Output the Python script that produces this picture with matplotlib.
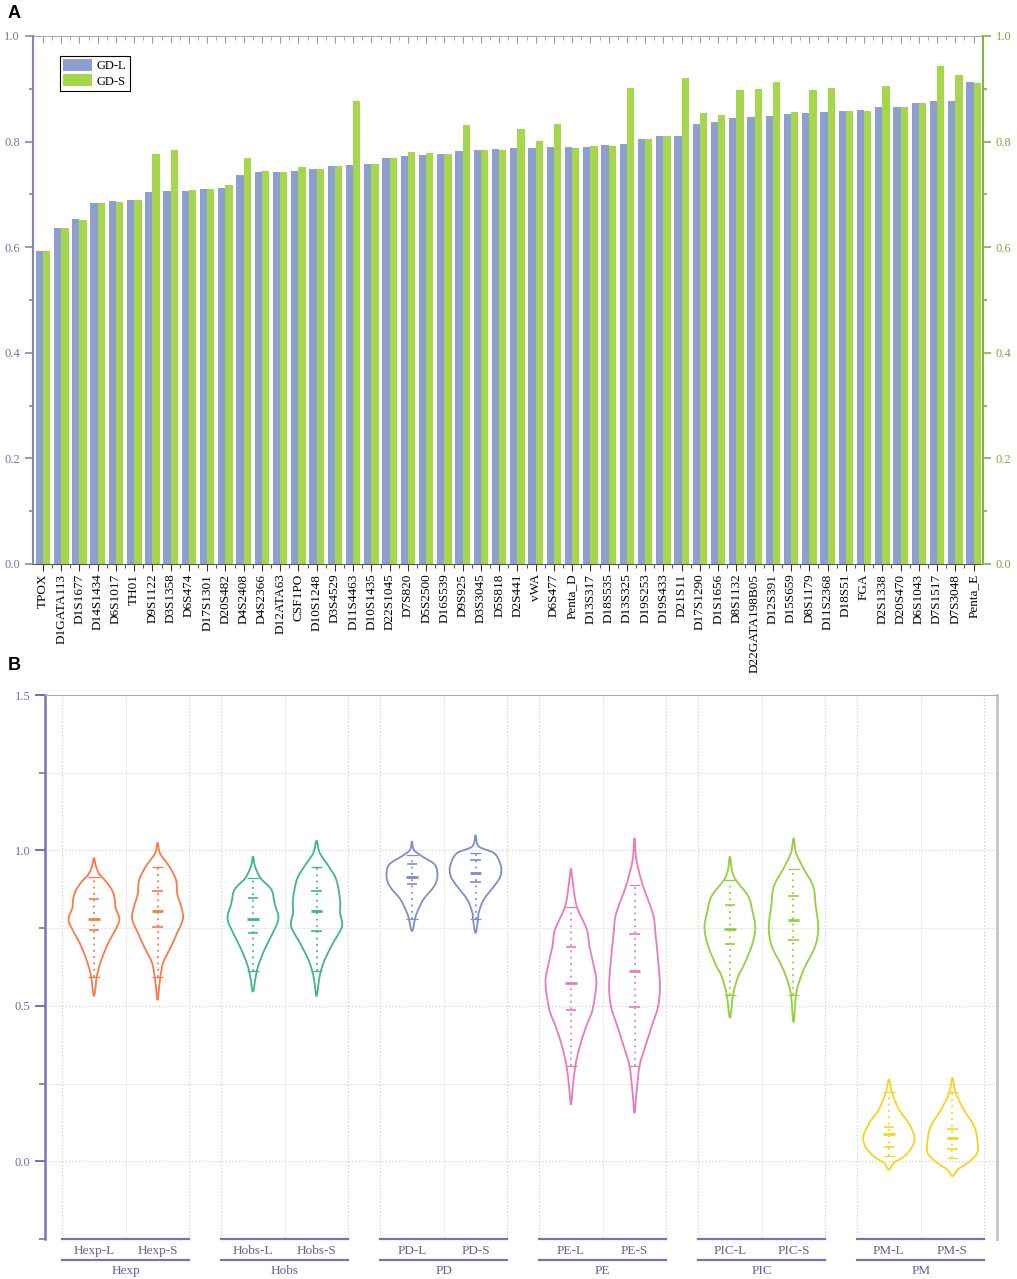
import numpy as np
import matplotlib
matplotlib.use('Agg')
import matplotlib.pyplot as plt
from matplotlib.path import Path
from matplotlib.patches import PathPatch
from matplotlib.ticker import MultipleLocator, FixedLocator

plt.rcParams['font.family'] = ['Liberation Serif', 'DejaVu Serif']

# ---- panel A data ----
loci = ['TPOX', 'D1GATA113', 'D1S1677', 'D14S1434', 'D6S1017', 'TH01', 'D9S1122', 'D3S1358',
        'D6S474', 'D17S1301', 'D20S482', 'D4S2408', 'D4S2366', 'D12ATA63', 'CSF1PO', 'D10S1248',
        'D3S4529', 'D11S4463', 'D10S1435', 'D22S1045', 'D7S820', 'D5S2500', 'D16S539', 'D9S925',
        'D3S3045', 'D5S818', 'D2S441', 'vWA', 'D6S477', 'Penta_D', 'D13S317', 'D18S535',
        'D13S325', 'D19S253', 'D19S433', 'D21S11', 'D17S1290', 'D1S1656', 'D8S1132',
        'D22GATA198B05', 'D12S391', 'D15S659', 'D8S1179', 'D11S2368', 'D18S51', 'FGA',
        'D2S1338', 'D20S470', 'D6S1043', 'D7S1517', 'D7S3048', 'Penta_E']
gd_l = [0.592, 0.637, 0.653, 0.684, 0.687, 0.689, 0.705, 0.706, 0.706, 0.710, 0.712, 0.737,
        0.742, 0.743, 0.745, 0.749, 0.754, 0.755, 0.758, 0.768, 0.773, 0.775, 0.777, 0.782,
        0.784, 0.786, 0.787, 0.787, 0.789, 0.789, 0.790, 0.793, 0.795, 0.804, 0.811, 0.811,
        0.834, 0.838, 0.844, 0.847, 0.849, 0.853, 0.855, 0.856, 0.858, 0.859, 0.866, 0.866,
        0.874, 0.876, 0.877, 0.912]
gd_s = [0.592, 0.636, 0.652, 0.684, 0.686, 0.689, 0.777, 0.785, 0.708, 0.711, 0.717, 0.768,
        0.744, 0.743, 0.751, 0.749, 0.754, 0.876, 0.758, 0.769, 0.780, 0.778, 0.777, 0.831,
        0.784, 0.785, 0.823, 0.801, 0.834, 0.788, 0.792, 0.792, 0.902, 0.804, 0.811, 0.920,
        0.855, 0.851, 0.898, 0.899, 0.913, 0.857, 0.898, 0.901, 0.858, 0.858, 0.905, 0.866,
        0.874, 0.944, 0.927, 0.911]

# ---- panel B data ----
groups = ['Hexp', 'Hobs', 'PD', 'PE', 'PIC', 'PM']
group_colors = ['#fa7a48', '#40b68b', '#7b8fc9', '#e67bbf', '#93d13b', '#fdd319']
# violin outlines: (value, half width)
profiles = {
    'Hexp-L': [(0.531, 0), (0.56, 0.025), (0.60, 0.05), (0.65, 0.12), (0.70, 0.22), (0.75, 0.35),
               (0.78, 0.40), (0.815, 0.34), (0.84, 0.33), (0.87, 0.29), (0.90, 0.19), (0.925, 0.08),
               (0.95, 0.03), (0.976, 0)],
    'Hexp-S': [(0.518, 0), (0.56, 0.025), (0.60, 0.05), (0.64, 0.09), (0.69, 0.21), (0.735, 0.31),
               (0.78, 0.40), (0.82, 0.37), (0.86, 0.31), (0.905, 0.29), (0.95, 0.18), (0.99, 0.04),
               (1.024, 0)],
    'Hobs-L': [(0.545, 0), (0.59, 0.04), (0.627, 0.08), (0.68, 0.18), (0.734, 0.31), (0.781, 0.40),
               (0.83, 0.34), (0.874, 0.29), (0.911, 0.12), (0.95, 0.03), (0.981, 0)],
    'Hobs-S': [(0.531, 0), (0.57, 0.03), (0.606, 0.06), (0.649, 0.13), (0.702, 0.26), (0.756, 0.40),
               (0.80, 0.37), (0.842, 0.37), (0.906, 0.31), (0.949, 0.19), (0.992, 0.05), (1.031, 0)],
    'PD-L': [(0.74, 0), (0.781, 0.05), (0.80, 0.08), (0.842, 0.18), (0.885, 0.35), (0.917, 0.40),
             (0.954, 0.36), (0.981, 0.16), (1.002, 0.03), (1.029, 0)],
    'PD-S': [(0.734, 0), (0.78, 0.04), (0.80, 0.05), (0.842, 0.13), (0.89, 0.31), (0.917, 0.39),
             (0.949, 0.40), (0.99, 0.30), (1.013, 0.05), (1.048, 0)],
    'PE-L': [(0.182, 0), (0.241, 0.03), (0.308, 0.07), (0.37, 0.14), (0.434, 0.24), (0.488, 0.34),
             (0.574, 0.40), (0.628, 0.36), (0.692, 0.29), (0.746, 0.25), (0.821, 0.09), (0.896, 0.03),
             (0.941, 0)],
    'PE-S': [(0.155, 0), (0.22, 0.03), (0.308, 0.08), (0.37, 0.17), (0.434, 0.27), (0.498, 0.37),
             (0.563, 0.40), (0.649, 0.37), (0.731, 0.33), (0.796, 0.29), (0.888, 0.13), (0.969, 0.03),
             (1.04, 0)],
    'PIC-L': [(0.461, 0), (0.536, 0.05), (0.595, 0.13), (0.627, 0.21), (0.691, 0.34), (0.75, 0.40),
              (0.799, 0.36), (0.852, 0.29), (0.906, 0.09), (0.938, 0.03), (0.981, 0)],
    'PIC-S': [(0.447, 0), (0.536, 0.04), (0.584, 0.10), (0.63, 0.19), (0.691, 0.34), (0.75, 0.39),
              (0.82, 0.35), (0.884, 0.31), (0.941, 0.16), (0.992, 0.04), (1.038, 0)],
    'PM-L': [(-0.027, 0), (-0.005, 0.08), (0.016, 0.24), (0.048, 0.37), (0.08, 0.40), (0.123, 0.31),
             (0.166, 0.16), (0.22, 0.05), (0.263, 0)],
    'PM-S': [(-0.048, 0), (-0.027, 0.08), (-0.005, 0.24), (0.027, 0.39), (0.07, 0.39), (0.113, 0.34),
             (0.166, 0.18), (0.22, 0.05), (0.268, 0)],
}
# min, Q1, median, Q3, max
stats = {
    'Hexp-L': [0.592, 0.743, 0.781, 0.845, 0.914],
    'Hexp-S': [0.592, 0.755, 0.805, 0.871, 0.946],
    'Hobs-L': [0.613, 0.734, 0.781, 0.847, 0.911],
    'Hobs-S': [0.613, 0.742, 0.805, 0.871, 0.946],
    'PD-L': [0.781, 0.893, 0.915, 0.957, 0.985],
    'PD-S': [0.781, 0.899, 0.927, 0.968, 0.992],
    'PE-L': [0.308, 0.488, 0.574, 0.688, 0.819],
    'PE-S': [0.308, 0.497, 0.611, 0.731, 0.888],
    'PIC-L': [0.536, 0.700, 0.748, 0.825, 0.905],
    'PIC-S': [0.536, 0.711, 0.777, 0.854, 0.941],
    'PM-L': [0.018, 0.045, 0.088, 0.109, 0.223],
    'PM-S': [0.011, 0.038, 0.075, 0.104, 0.223],
}

W, H = 1017, 1279
fig = plt.figure(figsize=(W / 100, H / 100), dpi=100)


def px_axes(left, top, right, bottom):
    return fig.add_axes([left / W, 1 - bottom / H, (right - left) / W, (bottom - top) / H])


# ================= panel A =================
blue, green = '#8c9fcf', '#a5d64c'
left_c, right_c = '#8088bb', '#86b043'
ax = px_axes(33.3, 36, 982.7, 564)
x = np.arange(len(loci))
ax.bar(x - 0.2, gd_l, 0.4, color=blue, label='GD-L')
ax.bar(x + 0.2, gd_s, 0.4, color=green, label='GD-S')
ax.set_xlim(-0.53, len(loci) - 0.5)
ax.set_ylim(0, 1)

ax.set_xticks(x, loci, rotation=90)
ax.xaxis.set_minor_locator(FixedLocator(x[:-1] + 0.5))
ax.tick_params(axis='x', which='major', length=5, color='#333333', labelsize=9.5, pad=2)
ax.tick_params(axis='x', which='minor', length=3, color='#333333')
ax.yaxis.set_major_locator(MultipleLocator(0.2))
ax.yaxis.set_minor_locator(MultipleLocator(0.1))
ax.tick_params(axis='y', which='major', length=6, width=1.2, color=left_c, labelcolor='#6f75a8',
               labelsize=9)
ax.tick_params(axis='y', which='minor', length=3, width=1.2, color=left_c)
ax.spines['left'].set_color(left_c)
ax.spines['left'].set_linewidth(1.5)
ax.spines['bottom'].set_color('#555555')
ax.spines['right'].set_visible(False)
ax.spines['top'].set_visible(False)

ax2 = ax.twinx()
ax2.set_ylim(0, 1)
ax2.yaxis.set_major_locator(MultipleLocator(0.2))
ax2.yaxis.set_minor_locator(MultipleLocator(0.1))
ax2.tick_params(axis='y', which='major', length=6, width=1.2, color=right_c, labelcolor='#7aa83a',
                labelsize=9)
ax2.tick_params(axis='y', which='minor', length=3, width=1.2, color=right_c)
for s in ['left', 'top', 'bottom']:
    ax2.spines[s].set_visible(False)
ax2.spines['right'].set_color(right_c)
ax2.spines['right'].set_linewidth(1.5)

top = ax.secondary_xaxis('top')
top.set_xticks(x, [''] * len(x))
top.xaxis.set_minor_locator(FixedLocator(x[:-1] + 0.5))
top.tick_params(which='major', direction='in', length=5, color='#999999')
top.tick_params(which='minor', direction='in', length=3, color='#999999')
top.spines['top'].set_color('#aaaaaa')

leg = ax.legend(loc='upper left', bbox_to_anchor=(0.028, 0.962), borderaxespad=0, fancybox=False,
                edgecolor='black', framealpha=1, fontsize=9, handlelength=2.3, handleheight=1.1,
                borderpad=0.25, labelspacing=0.15, handletextpad=0.4)
leg.get_frame().set_linewidth(0.8)

fig.text(8 / W, 1 - 13 / H, 'A', fontsize=13, fontweight='bold', family='Liberation Sans', va='center')
fig.text(8 / W, 1 - 665 / H, 'B', fontsize=13, fontweight='bold', family='Liberation Sans', va='center')

# ================= panel B =================
axis_c = '#7276ad'
bx = px_axes(45, 695, 997, 1239)
bx.set_xlim(-0.27, 14.7)
bx.set_ylim(-0.25, 1.5)

starts = [2.5 * g for g in range(len(groups))]
for s in starts:
    for v in (s, s + 2):
        bx.axvline(v, color='#c8c8c8', lw=0.8, ls=(0, (1, 2)), zorder=0)
    bx.axvline(s + 1, color='#eeeeee', lw=0.8, zorder=0)
for v in (0, 0.5, 1.0):
    bx.axhline(v, color='#c8c8c8', lw=0.8, ls=(0, (1, 2)), zorder=0)
for v in (0.25, 0.75, 1.25):
    bx.axhline(v, color='#eeeeee', lw=0.8, zorder=0)


def outline(center, prof):
    vals = np.array(prof, dtype=float)
    right = [(center + w, y) for y, w in vals]
    left = [(center - w, y) for y, w in vals[-2:0:-1]]
    pts = np.array(right + left)
    n = len(pts)
    verts = [pts[0]]
    codes = [Path.MOVETO]
    for i in range(n):
        p0, p1, p2, p3 = pts[i - 1], pts[i], pts[(i + 1) % n], pts[(i + 2) % n]
        verts += [p1 + (p2 - p0) / 6, p2 - (p3 - p1) / 6, p2]
        codes += [Path.CURVE4] * 3
    return Path(verts, codes)


centers, sub_labels = [], []
for g, (name, col) in enumerate(zip(groups, group_colors)):
    for k, suf in enumerate(['L', 'S']):
        key = name + '-' + suf
        c = starts[g] + 0.5 + k
        centers.append(c)
        sub_labels.append(key)
        bx.add_patch(PathPatch(outline(c, profiles[key]), fill=False, edgecolor=col, lw=1.3, zorder=3))
        mn, q1, md, q3, mx = stats[key]
        bx.plot([c, c], [mn, mx], color=col, lw=1.3, ls=(0, (1, 2.5)), zorder=3)
        bx.hlines([mn, mx], c - 0.09, c + 0.09, color=col, lw=0.9, zorder=3)
        bx.hlines([q1, q3], c - 0.08, c + 0.08, color=col, lw=1.2, zorder=3)
        bx.hlines([md], c - 0.09, c + 0.09, color=col, lw=2.0, zorder=3)

bx.set_xticks(centers, sub_labels)
bx.tick_params(axis='x', length=0, pad=4, labelsize=9.5, labelcolor='#5d619c')
bx.yaxis.set_major_locator(MultipleLocator(0.5))
bx.yaxis.set_minor_locator(MultipleLocator(0.25))
bx.tick_params(axis='y', which='major', length=7, width=1.5, color=axis_c, labelcolor='#6a6ea3',
               labelsize=9)
bx.tick_params(axis='y', which='minor', length=4, width=1.2, color=axis_c)
bx.spines['left'].set_color(axis_c)
bx.spines['left'].set_linewidth(1.8)
bx.spines['bottom'].set_visible(False)
bx.spines['top'].set_color('#aaaaaa')
bx.spines['right'].set_color('#c4c4c4')
bx.spines['right'].set_linewidth(2)

tr = bx.get_xaxis_transform()
y2 = -(1260 - 1239) / 544
ylab = -(1271 - 1239) / 544
for g, name in enumerate(groups):
    s = starts[g]
    for yy in (0, y2):
        bx.plot([s, s + 2], [yy, yy], color=axis_c, lw=1.6, transform=tr, clip_on=False)
    bx.text(s + 1, ylab, name, transform=tr, ha='center', va='center', fontsize=9.5, color='#5d619c')

fig.savefig('out.png', dpi=100)
